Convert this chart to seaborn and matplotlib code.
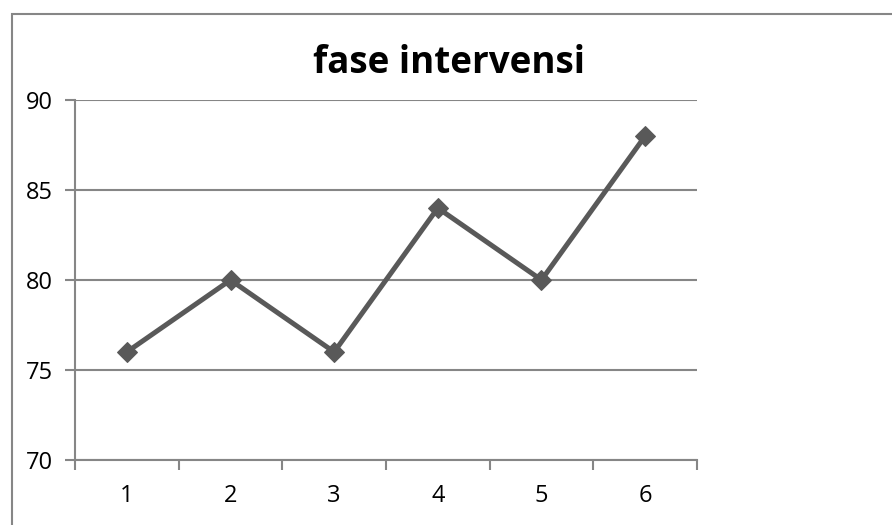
import matplotlib
matplotlib.use("Agg")
import matplotlib.pyplot as plt
import seaborn as sns
import pandas as pd
from matplotlib.patches import Rectangle
from matplotlib.ticker import FixedLocator

title = "fase intervensi"
sessions = [1, 2, 3, 4, 5, 6]
scores = [76, 80, 76, 84, 80, 88]

df = pd.DataFrame({"session": sessions, "score": scores})

sns.set_style("white")
plt.rcParams["font.family"] = ["Open Sans", "DejaVu Sans"]

grey = "#868686"
line_col = "#595959"

fig = plt.figure(figsize=(8.92, 5.25), dpi=100)
ax = fig.add_axes([75 / 892, 1 - 460 / 525, 622 / 892, 360 / 525])

sns.lineplot(data=df, x="session", y="score", ax=ax, color=line_col,
             linewidth=3.6, marker="D", markersize=10, markeredgecolor=line_col,
             markerfacecolor=line_col)

ax.set_xlim(0.5, 6.5)
ax.set_ylim(70, 90)
ax.set_yticks([70, 75, 80, 85, 90])
ax.yaxis.grid(True, color=grey, linewidth=1.5)
ax.set_axisbelow(True)

ax.set_xticks(sessions)
ax.set_xticklabels([str(s) for s in sessions])
ax.xaxis.set_minor_locator(FixedLocator([s - 0.5 for s in sessions] + [6.5]))
ax.tick_params(axis="x", which="major", bottom=True, length=0, pad=17,
               labelsize=17, labelcolor="black")
ax.tick_params(axis="x", which="minor", bottom=True, length=7, width=1.5,
               color=grey, direction="out")
ax.tick_params(axis="y", left=True, length=7, width=1.5, color=grey,
               direction="out", pad=9, labelsize=17, labelcolor="black")

for side in ["top", "right"]:
    ax.spines[side].set_visible(False)
for side in ["left", "bottom"]:
    ax.spines[side].set_color(grey)
    ax.spines[side].set_linewidth(1.5)

ax.set_xlabel("")
ax.set_ylabel("")

fig.text(449 / 892, 1 - 63 / 525, title, ha="center", va="center",
         fontsize=26.5, fontweight="bold", color="black")

fig.add_artist(Rectangle((12 / 892, -0.1), 1.2, 1.1 - 14 / 525,
                         transform=fig.transFigure, fill=False,
                         edgecolor=grey, linewidth=1.5))

fig.savefig("out.png", dpi=100)
